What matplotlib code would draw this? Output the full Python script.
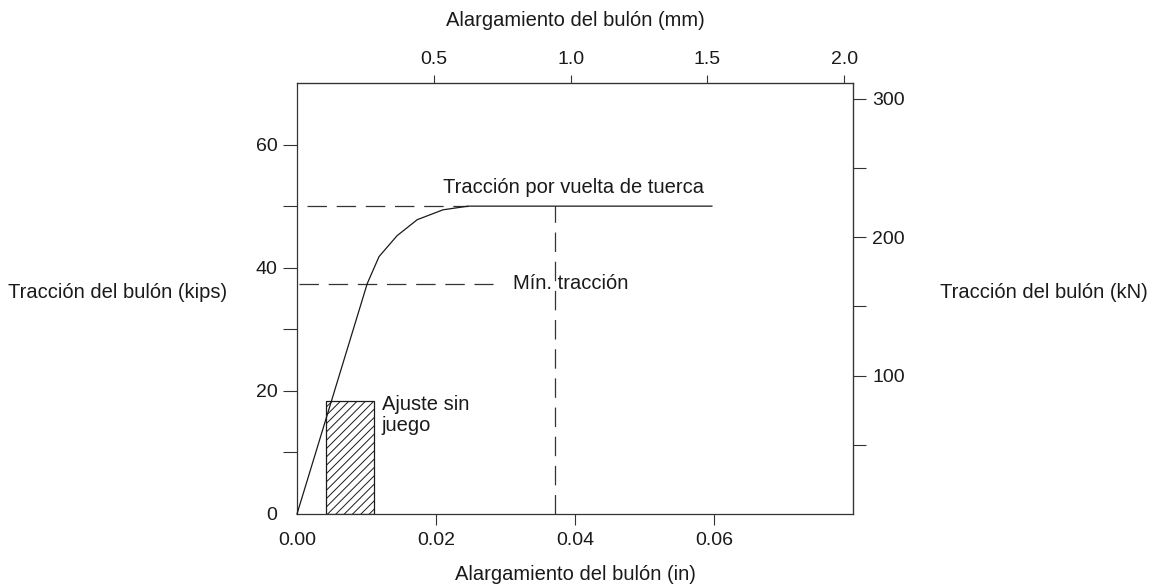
import matplotlib
matplotlib.use("Agg")
import matplotlib.pyplot as plt
from matplotlib.patches import Rectangle

plt.rcParams['font.family'] = ['Liberation Sans', 'DejaVu Sans']
plt.rcParams['lines.scale_dashes'] = False
plt.rcParams['hatch.linewidth'] = 0.7

# Load-elongation curve of the bolt (elongation in inches, tension in kips)
elong_in = [0.0, 0.0101, 0.0118, 0.0144, 0.0173, 0.0210, 0.0246, 0.0597]
tension_kips = [0.0, 37.4, 41.8, 45.2, 47.8, 49.4, 50.0, 50.0]

# Reference levels
turn_of_nut_kips = 50.0
turn_of_nut_span_in = [0.0014, 0.0246]
turn_of_nut_elong_in = 0.0371
min_tension_kips = 37.4
min_tension_span_in = [0.0003, 0.0282]

# Snug-tight zone
snug_span_in = [0.0042, 0.0111]
snug_kips = 18.4

# Axis ticks
x_ticks_in = [0.00, 0.02, 0.04, 0.06]
x_ticklabels_in = ['0.00', '0.02', '0.04', '0.06']
x_ticks_mm = [0.5, 1.0, 1.5, 2.0]
x_ticklabels_mm = ['0.5', '1.0', '1.5', '2.0']
y_ticks_kips = [0, 20, 40, 60]
y_minor_kips = [10, 30, 50]
y_ticks_kN = [100, 200, 300]
y_minor_kN = [50, 150, 250]

IN_TO_MM = 25.4
KIPS_TO_KN = 4.448

INK = '#1a1a1a'
AX = '#333333'
FS_TICK = 14
FS_TEXT = 14.5

fig = plt.figure(figsize=(11.53, 5.88), dpi=100)
ax = fig.add_axes([297 / 1153, 1 - 514 / 588, (853 - 297) / 1153, (514 - 83) / 588])
ax.set_xlim(0, 0.08)
ax.set_ylim(0, 70)

for side in ['left', 'right', 'top', 'bottom']:
    ax.spines[side].set_color(AX)
    ax.spines[side].set_linewidth(0.9)

# Bottom axis (inches)
ax.set_xticks(x_ticks_in)
ax.set_xticklabels(x_ticklabels_in)
ax.tick_params(axis='x', direction='out', length=8, width=0.8, pad=5,
               labelsize=FS_TICK, colors=AX, labelcolor=INK)
ax.xaxis.get_major_ticks()[0].tick1line.set_visible(False)

# Left axis (kips)
ax.set_yticks(y_ticks_kips)
ax.set_yticks(y_minor_kips, minor=True)
ax.yaxis.set_minor_formatter(plt.NullFormatter())
ax.tick_params(axis='y', which='both', direction='out', length=10, width=0.8,
               pad=4, labelsize=FS_TICK, colors=AX, labelcolor=INK)
ax.yaxis.get_major_ticks()[0].tick1line.set_visible(False)

# Top axis (mm)
secx = ax.secondary_xaxis('top', functions=(lambda x: x * IN_TO_MM,
                                            lambda x: x / IN_TO_MM))
secx.set_xticks(x_ticks_mm)
secx.set_xticklabels(x_ticklabels_mm)
secx.tick_params(direction='out', length=6, width=0.8, pad=5,
                 labelsize=FS_TICK, colors=AX, labelcolor=INK)
secx.spines['top'].set_color(AX)

# Right axis (kN)
secy = ax.secondary_yaxis('right', functions=(lambda y: y * KIPS_TO_KN,
                                              lambda y: y / KIPS_TO_KN))
secy.set_yticks(y_ticks_kN)
secy.set_yticks(y_minor_kN, minor=True)
secy.yaxis.set_minor_formatter(plt.NullFormatter())
secy.tick_params(which='both', direction='out', length=9, width=0.8, pad=5,
                 labelsize=FS_TICK, colors=AX, labelcolor=INK)
secy.spines['right'].set_color(AX)

# Curve
ax.plot(elong_in, tension_kips, color=INK, lw=0.9, clip_on=False, zorder=3)

# Dashed reference lines
dash = (14, 7)
ax.plot(turn_of_nut_span_in, [turn_of_nut_kips] * 2, color=AX, lw=0.9,
        dashes=dash)
ax.plot(min_tension_span_in, [min_tension_kips] * 2, color=AX, lw=0.9,
        dashes=dash)
ax.plot([turn_of_nut_elong_in] * 2, [0, turn_of_nut_kips], color=AX, lw=0.9,
        dashes=dash)

# Snug-tight zone
ax.add_patch(Rectangle((snug_span_in[0], 0), snug_span_in[1] - snug_span_in[0],
                       snug_kips, fill=False, hatch='////', lw=0.9,
                       edgecolor=INK, zorder=2))

# Annotations
ax.text(0.0210, 52.2, 'Tracción por vuelta de tuerca', fontsize=FS_TEXT,
        color=INK, ha='left', va='baseline')
ax.text(0.0311, 36.6, 'Mín. tracción', fontsize=FS_TEXT, color=INK,
        ha='left', va='baseline')
ax.text(0.0122, 19.4, 'Ajuste sin\njuego', fontsize=FS_TEXT, color=INK,
        ha='left', va='top', linespacing=1.15)

# Axis titles
fig.text(575 / 1153, 1 - 20 / 588, 'Alargamiento del bulón (mm)',
         fontsize=FS_TEXT, color=INK, ha='center', va='center')
fig.text(575 / 1153, 1 - 575 / 588, 'Alargamiento del bulón (in)',
         fontsize=FS_TEXT, color=INK, ha='center', va='center')
fig.text(8 / 1153, 1 - 293 / 588, 'Tracción del bulón (kips)',
         fontsize=FS_TEXT, color=INK, ha='left', va='center')
fig.text(940 / 1153, 1 - 293 / 588, 'Tracción del bulón (kN)',
         fontsize=FS_TEXT, color=INK, ha='left', va='center')

fig.savefig('out.png', dpi=100, facecolor='white')
